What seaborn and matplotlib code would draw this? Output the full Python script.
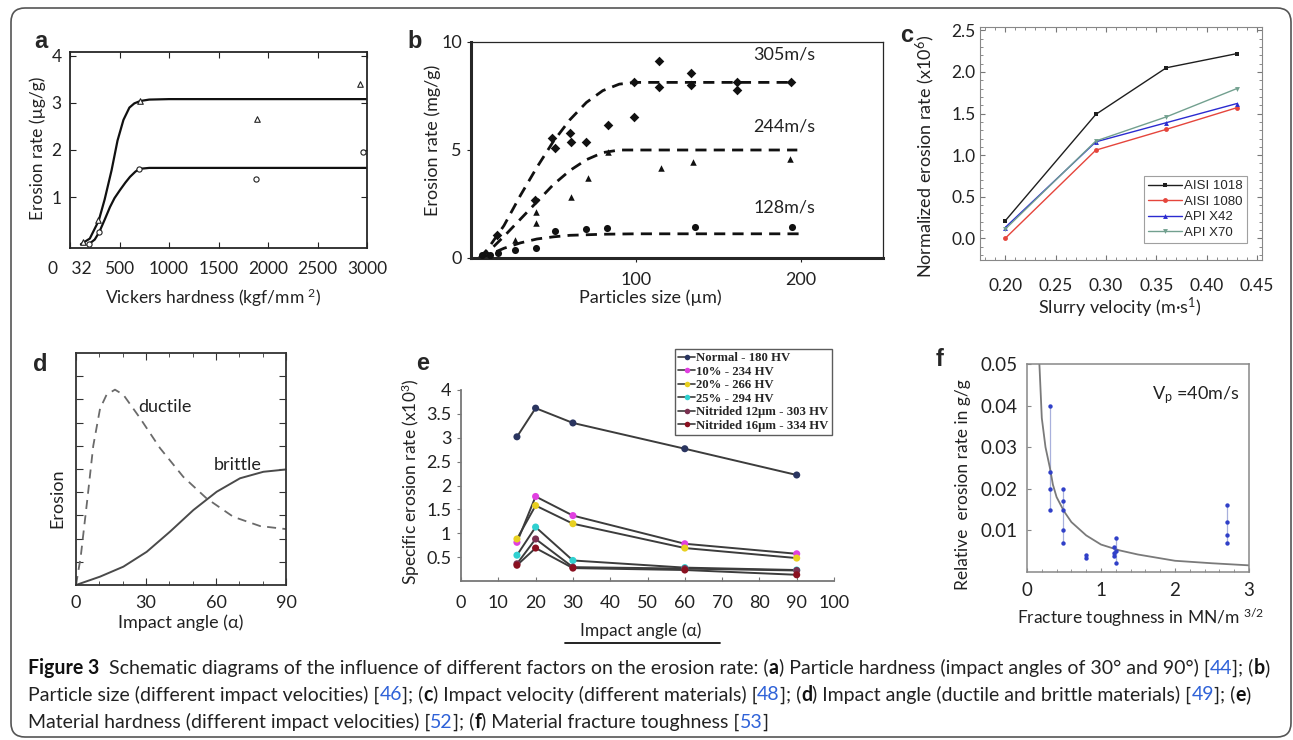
import matplotlib
matplotlib.use("Agg")
import matplotlib.pyplot as plt
from matplotlib.lines import Line2D
from matplotlib.patches import FancyBboxPatch
from matplotlib.transforms import IdentityTransform
from matplotlib.ticker import MultipleLocator
import pandas as pd
import seaborn as sns

# ---------------- data ----------------
# (a) erosion rate vs Vickers hardness (30 deg triangles, 90 deg circles)
a_tri_x = [128, 286, 707, 1886, 2929]
a_tri_y = [0.05, 0.51, 3.04, 2.66, 3.40]
a_cir_x = [195, 296, 697, 1879, 2956]
a_cir_y = [0.00, 0.26, 1.60, 1.38, 1.95]
a_fit30_x = [110, 200, 290, 350, 420, 480, 540, 600, 650, 710, 800, 1000, 3000]
a_fit30_y = [0.0, 0.12, 0.50, 0.95, 1.57, 2.20, 2.64, 2.90, 2.99, 3.04, 3.07, 3.08, 3.08]
a_fit90_x = [190, 250, 296, 350, 404, 450, 505, 560, 606, 660, 700, 800, 3000]
a_fit90_y = [0.0, 0.10, 0.26, 0.52, 0.79, 0.98, 1.15, 1.31, 1.43, 1.54, 1.60, 1.62, 1.62]

# (b) erosion rate vs particle size, three impact velocities
b305_x = [15.7, 38.7, 49, 51, 59.8, 60.8, 69.8, 82.9, 99, 99, 114, 114, 133.7, 133.7, 161.2, 161.2, 194.3]
b305_y = [1.07, 2.69, 5.54, 5.08, 5.77, 5.39, 5.35, 6.16, 6.54, 8.13, 9.12, 7.93, 8.55, 8.01, 8.16, 7.78, 8.16]
b244_x = [26.7, 39.5, 39.5, 60.8, 70.8, 82.9, 115, 135, 193.4]
b244_y = [0.83, 1.60, 2.14, 2.84, 3.69, 4.92, 4.15, 4.46, 4.57]
b128_x = [6.6, 11.6, 16.6, 26.7, 39.5, 50.8, 69.8, 82.3, 135.7, 194.7]
b128_y = [0.13, 0.13, 0.22, 0.37, 0.45, 1.27, 1.33, 1.38, 1.45, 1.42]
b305_fit_x = [5, 10, 20, 30, 40, 50, 60, 70, 80, 90, 100, 196]
b305_fit_y = [0.0, 0.4, 1.5, 2.9, 4.2, 5.4, 6.4, 7.2, 7.75, 8.05, 8.13, 8.13]
b244_fit_x = [5, 10, 20, 30, 40, 50, 60, 70, 80, 90, 100, 198]
b244_fit_y = [0.0, 0.25, 1.0, 1.8, 2.6, 3.4, 4.05, 4.55, 4.88, 5.0, 5.0, 5.0]
b128_fit_x = [5, 10, 20, 30, 40, 50, 60, 80, 100, 200]
b128_fit_y = [0.0, 0.12, 0.45, 0.70, 0.88, 0.98, 1.05, 1.10, 1.12, 1.12]
b_speeds = ["305m/s", "244m/s", "128m/s"]
b_label_y = [9.4, 6.1, 2.36]

# (c) normalized erosion rate vs slurry velocity
c_velocity = [0.20, 0.29, 0.36, 0.43]
c_steels = ["AISI 1018", "AISI 1080", "API X42", "API X70"]
c_rates = {
    "AISI 1018": [0.21, 1.49, 2.05, 2.22],
    "AISI 1080": [0.00, 1.06, 1.31, 1.57],
    "API X42": [0.13, 1.16, 1.39, 1.62],
    "API X70": [0.11, 1.17, 1.46, 1.80],
}
c_colors = ["#1e1e1e", "#e5453c", "#2b2bd0", "#72a08f"]
c_markers = ["s", "o", "^", "v"]

# (d) schematic erosion vs impact angle
d_ductile_x = [0, 2, 4.9, 7.4, 10.3, 13.1, 16.7, 20.3, 27.4, 36, 46, 56, 67.4, 78.9, 90]
d_ductile_y = [0, 1.2, 3.73, 6.0, 7.6, 8.2, 8.42, 8.2, 7.2, 5.9, 4.66, 3.73, 2.94, 2.54, 2.41]
d_brittle_x = [0, 10.3, 20.3, 30.3, 40.3, 50.3, 60.3, 70.3, 80.3, 90]
d_brittle_y = [0, 0.36, 0.79, 1.43, 2.30, 3.23, 4.02, 4.60, 4.88, 4.98]

# (e) specific erosion rate vs impact angle for different hardness
e_angle = [15, 20, 30, 60, 90]
e_series = ["Normal - 180 HV", "10% - 234 HV", "20% - 266 HV", "25% - 294 HV",
            "Nitrided 12\u00b5m - 303 HV", "Nitrided 16\u00b5m - 334 HV"]
e_rates = [
    [3.02, 3.62, 3.31, 2.77, 2.22],
    [0.81, 1.77, 1.37, 0.78, 0.57],
    [0.88, 1.58, 1.20, 0.69, 0.48],
    [0.54, 1.13, 0.43, 0.28, 0.23],
    [0.36, 0.88, 0.29, 0.26, 0.22],
    [0.33, 0.69, 0.27, 0.23, 0.13],
]
e_colors = ["#2a3560", "#e040e0", "#e8d020", "#30d0d0", "#7a3050", "#8a1020"]

# (f) relative erosion rate vs fracture toughness
f_tough = [0.31, 0.31, 0.31, 0.31, 0.48, 0.48, 0.48, 0.48, 0.48, 0.80, 0.80,
           1.17, 1.17, 1.17, 1.20, 1.20, 1.20, 2.70, 2.70, 2.70, 2.70]
f_rate = [0.040, 0.024, 0.020, 0.015, 0.020, 0.017, 0.015, 0.010, 0.007, 0.0041, 0.0034,
          0.0060, 0.0046, 0.0038, 0.0082, 0.0050, 0.0022, 0.016, 0.012, 0.009, 0.007]
f_fit_x = [0.15, 0.17, 0.2, 0.25, 0.31, 0.35, 0.4, 0.5, 0.6, 0.8, 1.0, 1.25, 1.5, 2.0, 2.5, 3.0]
f_fit_y = [0.056, 0.049, 0.037, 0.030, 0.025, 0.021, 0.018, 0.0146, 0.012, 0.0088, 0.0066,
           0.0052, 0.0042, 0.0027, 0.0021, 0.0016]

caption_lines = [
    [("Figure 3", "b"), ("  Schematic diagrams of the influence of different factors on the erosion rate: (", "r"),
     ("a", "b"), (") Particle hardness (impact angles of 30\u00b0 and 90\u00b0) [", "r"), ("44", "l"),
     ("]; (", "r"), ("b", "b"), (")", "r")],
    [("Particle size (different impact velocities) [", "r"), ("46", "l"), ("]; (", "r"), ("c", "b"),
     (") Impact velocity (different materials) [", "r"), ("48", "l"), ("]; (", "r"), ("d", "b"),
     (") Impact angle (ductile and brittle materials) [", "r"), ("49", "l"), ("]; (", "r"), ("e", "b"), (")", "r")],
    [("Material hardness (different impact velocities) [", "r"), ("52", "l"), ("]; (", "r"), ("f", "b"),
     (") Material fracture toughness [", "r"), ("53", "l"), ("]", "r")],
]

# ---------------- style ----------------
sns.set_style("ticks")
plt.rcParams["font.family"] = ["Lato", "DejaVu Sans"]
plt.rcParams["mathtext.default"] = "regular"
plt.rcParams["axes.linewidth"] = 1.0

W, H = 1293, 740
fig = plt.figure(figsize=(W / 100, H / 100), dpi=100)


def axes_px(x0, y0, x1, y1):
    ax = fig.add_axes([x0 / W, 1 - y1 / H, (x1 - x0) / W, (y1 - y0) / H])
    ax.box_px = (x0, y0, x1, y1)
    return ax


def labels_px(ax, xlab, xpos, ylab, ypos, size):
    x0, y0, x1, y1 = ax.box_px
    ax.set_xlabel(xlab, fontsize=size, va="center", color="#222")
    ax.set_ylabel(ylab, fontsize=size, va="center", color="#222")
    ax.xaxis.set_label_coords((xpos[0] - x0) / (x1 - x0), (y1 - xpos[1]) / (y1 - y0))
    ax.yaxis.set_label_coords((ypos[0] - x0) / (x1 - x0), (y1 - ypos[1]) / (y1 - y0))


def panel_letter(s, x, y):
    fig.text(x / W, 1 - y / H, s, fontsize=17, fontweight="bold", family="Liberation Sans",
             ha="center", va="center")


# ---------------- (a) ----------------
ax = axes_px(70, 52, 367, 248)
sns.lineplot(x=a_fit30_x, y=a_fit30_y, ax=ax, color="#111", lw=1.6, estimator=None, sort=False)
sns.lineplot(x=a_fit90_x, y=a_fit90_y, ax=ax, color="#111", lw=1.6, estimator=None, sort=False)
sns.scatterplot(x=a_tri_x, y=a_tri_y, ax=ax, marker="^", s=16, facecolor="white",
                edgecolor="#222", linewidth=0.8, zorder=3)
sns.scatterplot(x=a_cir_x, y=a_cir_y, ax=ax, marker="o", s=14, facecolor="white",
                edgecolor="#222", linewidth=0.8, zorder=3)
ax.set_xlim(0, 3000)
ax.set_ylim(-0.08, 4.08)
ax.set_xticks([0, 500, 1000, 1500, 2000, 2500, 3000])
ax.set_xticklabels(["0   32", "500", "1000", "1500", "2000", "2500", "3000"])
ax.set_yticks([1, 2, 3, 4])
ax.tick_params(direction="in", top=True, right=True, length=4, labelsize=12.5, pad=6, colors="#222")
ax.tick_params(axis="x", pad=9)
for sp in ax.spines.values():
    sp.set_linewidth(1.3)
labels_px(ax, "Vickers hardness (kgf/mm $^2$)", (213, 298), "Erosion rate (\u00b5g/g)", (38, 148), 12.5)
panel_letter("a", 41, 42)

# ---------------- (b) ----------------
ax = axes_px(471, 42, 883, 258)
dash = (0, (4, 2.6))
for fx, fy in [(b305_fit_x, b305_fit_y), (b244_fit_x, b244_fit_y), (b128_fit_x, b128_fit_y)]:
    sns.lineplot(x=fx, y=fy, ax=ax, color="#111", lw=2.0, linestyle=dash, estimator=None, sort=False)
sns.scatterplot(x=b305_x, y=b305_y, ax=ax, marker="D", s=24, color="#111", linewidth=0, zorder=3)
sns.scatterplot(x=b244_x, y=b244_y, ax=ax, marker="^", s=22, color="#111", linewidth=0, zorder=3)
sns.scatterplot(x=b128_x, y=b128_y, ax=ax, marker="o", s=26, color="#111", linewidth=0, zorder=3)
for lab, ly in zip(b_speeds, b_label_y):
    ax.text(190, ly, lab, fontsize=13, ha="center", va="center", color="#222")
ax.set_xlim(0, 250)
ax.set_ylim(0, 10)
ax.set_xticks([100, 200])
ax.set_yticks([0, 5, 10])
ax.tick_params(direction="out", length=3, labelsize=13, colors="#222")
ax.tick_params(axis="x", pad=7)
ax.spines["left"].set_linewidth(2.2)
ax.spines["bottom"].set_linewidth(2.2)
ax.spines["top"].set_linewidth(0.9)
ax.spines["right"].set_linewidth(0.9)
labels_px(ax, "Particles size (\u00b5m)", (650, 298), "Erosion rate (mg/g)", (433, 140), 13)
panel_letter("b", 415, 42)

# ---------------- (c) ----------------
ax = axes_px(980, 27, 1262, 260)
c_df = pd.DataFrame([(v, s, r) for s in c_steels for v, r in zip(c_velocity, c_rates[s])],
                    columns=["velocity", "steel", "rate"])
for s, col, mk in zip(c_steels, c_colors, c_markers):
    sub = c_df[c_df["steel"] == s]
    sns.lineplot(data=sub, x="velocity", y="rate", ax=ax, color=col, lw=1.0, marker=mk,
                 markersize=3.5, markeredgewidth=0, estimator=None)
handles = [Line2D([], [], color=col, lw=1.0, marker=mk, markersize=3.5, markeredgewidth=0)
           for col, mk in zip(c_colors, c_markers)]
leg = ax.legend(handles, c_steels, loc="lower right", bbox_to_anchor=(0.947, 0.073),
                frameon=True, fancybox=False, edgecolor="#888", handlelength=2.6, handletextpad=0.2,
                labelspacing=0.25, borderpad=0.3, borderaxespad=0,
                prop={"family": "Liberation Sans", "size": 9.5})
leg.get_frame().set_linewidth(0.8)
ax.set_xlim(0.175, 0.455)
ax.set_ylim(-0.26, 2.54)
ax.set_xticks([0.20, 0.25, 0.30, 0.35, 0.40, 0.45])
ax.set_yticks([0.0, 0.5, 1.0, 1.5, 2.0, 2.5])
ax.xaxis.set_major_formatter(matplotlib.ticker.FormatStrFormatter("%.2f"))
ax.yaxis.set_major_formatter(matplotlib.ticker.FormatStrFormatter("%.1f"))
ax.xaxis.set_minor_locator(MultipleLocator(0.01))
ax.yaxis.set_minor_locator(MultipleLocator(0.1))
ax.tick_params(which="both", direction="in", top=True, right=True, colors="#777", labelcolor="#222")
ax.tick_params(which="major", length=3.5, labelsize=12.5)
ax.tick_params(which="minor", length=2)
ax.tick_params(axis="x", pad=13)
ax.tick_params(axis="y", pad=3)
for sp in ax.spines.values():
    sp.set_color("#888")
    sp.set_linewidth(0.8)
labels_px(ax, "Slurry velocity (m\u00b7s$^1$)", (1120, 308), "Normalized erosion rate (x10$^6$)", (925, 156), 13)
panel_letter("c", 907, 36)

# ---------------- (d) ----------------
ax = axes_px(76, 353, 286, 585)
sns.lineplot(x=d_ductile_x, y=d_ductile_y, ax=ax, color="#6a6a6a", lw=1.3, linestyle=(0, (5, 3.5)),
             estimator=None, sort=False)
sns.lineplot(x=d_brittle_x, y=d_brittle_y, ax=ax, color="#4a4a4a", lw=1.4, estimator=None, sort=False)
ax.text(26.7, 7.68, "ductile", fontsize=13, ha="left", va="center", color="#222")
ax.text(58.9, 5.17, "brittle", fontsize=13, ha="left", va="center", color="#222")
ax.set_xlim(0, 90)
ax.set_ylim(0, 10)
ax.set_xticks([0, 30, 60, 90])
ax.xaxis.set_minor_locator(MultipleLocator(10))
ax.set_yticks(range(1, 10))
ax.set_yticklabels([])
ax.tick_params(which="both", direction="in", top=True, right=True, colors="#333", labelcolor="#222")
ax.tick_params(which="major", length=5, labelsize=13, pad=7)
ax.tick_params(which="minor", length=3)
for sp in ax.spines.values():
    sp.set_linewidth(1.3)
    sp.set_color("#333")
labels_px(ax, "Impact angle (\u03b1)", (181, 623), "Erosion", (57, 498), 13)
panel_letter("d", 40, 365)

# ---------------- (e) ----------------
ax = axes_px(461, 390, 834, 581)
e_df = pd.DataFrame([(a, s, r) for s, rs in zip(e_series, e_rates) for a, r in zip(e_angle, rs)],
                    columns=["angle", "series", "rate"])
sns.lineplot(data=e_df, x="angle", y="rate", units="series", estimator=None, ax=ax,
             color="#3c3c3c", lw=1.4, legend=False)
sns.scatterplot(data=e_df, x="angle", y="rate", hue="series", palette=e_colors, ax=ax,
                s=26, linewidth=0, legend=False, zorder=3)
handles = [Line2D([], [], color="#3c3c3c", lw=1.2, marker="o", markersize=4, markerfacecolor=col,
                  markeredgewidth=0) for col in e_colors]
x0, y0, x1, y1 = ax.box_px
leg = ax.legend(handles, e_series, loc="upper left",
                bbox_to_anchor=((675 - x0) / (x1 - x0), (y1 - 349) / (y1 - y0)),
                frameon=True, fancybox=False, edgecolor="#333", handlelength=1.3, handletextpad=0.1,
                labelspacing=0.12, borderpad=0.25, borderaxespad=0,
                prop={"family": "Liberation Serif", "weight": "bold", "size": 9.2})
leg.get_frame().set_linewidth(1.0)
ax.set_xlim(0, 100)
ax.set_ylim(0, 3.98)
ax.set_xticks(range(0, 101, 10))
ax.set_yticks([0.5, 1, 1.5, 2, 2.5, 3, 3.5, 4])
ax.set_yticklabels(["0.5", "1", "1.5", "2", "2.5", "3", "3.5", "4"])
ax.spines["top"].set_visible(False)
ax.spines["right"].set_visible(False)
for sp in ["left", "bottom"]:
    ax.spines[sp].set_color("#777")
    ax.spines[sp].set_linewidth(1.3)
ax.tick_params(axis="x", direction="in", length=3, colors="#777", labelcolor="#222", labelsize=13, pad=10)
ax.tick_params(axis="y", direction="out", length=3, colors="#777", labelcolor="#222", labelsize=13, pad=4)
labels_px(ax, "Impact angle (\u03b1)", (641, 631), "Specific erosion rate (x10$^3$)", (411, 482), 12.5)
fig.add_artist(Line2D([565 / W, 720 / W], [1 - 643 / H, 1 - 643 / H], transform=fig.transFigure,
                      color="#111", lw=1.3))
panel_letter("e", 423, 363)

# ---------------- (f) ----------------
ax = axes_px(1027, 364, 1249, 572)
f_df = pd.DataFrame({"tough": f_tough, "rate": f_rate})
f_rng = f_df.groupby("tough")["rate"].agg(["min", "max"]).reset_index()
ax.vlines(f_rng["tough"], f_rng["min"], f_rng["max"], color="#a8b0dc", lw=0.9, zorder=2)
sns.lineplot(x=f_fit_x, y=f_fit_y, ax=ax, color="#7a7a7a", lw=1.3, estimator=None, sort=False)
sns.scatterplot(data=f_df, x="tough", y="rate", ax=ax, color="#3040c8", s=10, linewidth=0, zorder=3)
ax.text(1.69, 0.0425, "V$_p$ =40m/s", fontsize=13, ha="left", va="center", color="#222")
ax.set_xlim(0, 3)
ax.set_ylim(0, 0.05)
ax.set_xticks([0, 1, 2, 3])
ax.set_yticks([0.01, 0.02, 0.03, 0.04, 0.05])
ax.yaxis.set_major_formatter(matplotlib.ticker.FormatStrFormatter("%.2f"))
ax.xaxis.set_minor_locator(MultipleLocator(0.2))
ax.tick_params(which="both", direction="in", colors="#888", labelcolor="#222")
ax.tick_params(which="major", length=3, labelsize=13.5, pad=7)
ax.tick_params(which="minor", length=2)
for sp in ax.spines.values():
    sp.set_color("#888")
    sp.set_linewidth(1.1)
labels_px(ax, "Fracture toughness in MN/m $^{3/2}$", (1141, 618), "Relative  erosion rate in g/g", (963, 485), 12.5)
panel_letter("f", 940, 360)

# ---------------- caption and frame ----------------
renderer = fig.canvas.get_renderer()
cap_style = {"r": {"color": "#222"}, "b": {"color": "#111", "fontweight": "bold"},
             "l": {"color": "#2f62d8"}}


def piece_width(txt, size, kind):
    t = fig.text(0, 0, txt + "|", fontsize=size, family="Lato", **cap_style[kind])
    w1 = t.get_window_extent(renderer).width
    t.set_text("|")
    w2 = t.get_window_extent(renderer).width
    t.remove()
    return w1 - w2


size = 11
line1_w = sum(piece_width(p, size, k) for p, k in caption_lines[0])
size = size * 1243 / line1_w
for line, yc in zip(caption_lines, [668, 695, 722]):
    x = 28
    for p, k in line:
        fig.text(x / W, 1 - yc / H, p, fontsize=size, family="Lato", va="center", ha="left", **cap_style[k])
        x += piece_width(p, size, k)

fig.add_artist(FancyBboxPatch((11, 3), 1280, 729, boxstyle="round,pad=0,rounding_size=14",
                              transform=IdentityTransform(), facecolor="none", edgecolor="#555", lw=1.2))

fig.savefig("out.png", dpi=100)
